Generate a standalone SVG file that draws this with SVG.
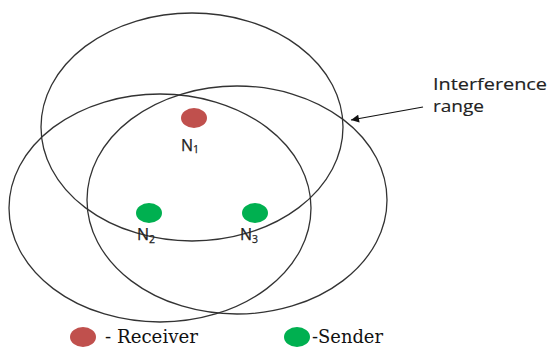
<svg xmlns="http://www.w3.org/2000/svg" width="550" height="347" viewBox="0 0 550 347">
<defs>
<style>
.range{fill:none;stroke:#333;stroke-width:1.3}
.rx{fill:#C0504D}
.tx{fill:#00B050}
.lbl{font-family:"Open Sans","Liberation Sans",sans-serif;font-size:16px;fill:#222;stroke:#222;stroke-width:0.25}
.sub{font-size:10.5px}
.leg{font-family:"DejaVu Serif","Liberation Serif",serif;font-size:18px;fill:#111}
</style>
<marker id="ah" viewBox="0 0 10 10" refX="10" refY="5" markerWidth="10" markerHeight="8" markerUnits="userSpaceOnUse" orient="auto">
<path d="M0,0 L10,5 L0,10 z" fill="#111"/>
</marker>
</defs>
<g id="ranges">
<ellipse class="range" cx="192" cy="127" rx="151" ry="114"/>
<ellipse class="range" cx="160" cy="208" rx="151" ry="114"/>
<ellipse class="range" cx="237" cy="200" rx="150" ry="114"/>
</g>
<g id="connectors">
<line x1="423" y1="107" x2="351" y2="120" stroke="#111" stroke-width="1.2" marker-end="url(#ah)"/>
</g>
<g id="N1">
<ellipse class="rx" cx="194" cy="118" rx="13" ry="10"/>
<text class="lbl" x="181" y="151">N<tspan class="sub" dy="2">1</tspan></text>
</g>
<g id="N2">
<ellipse class="tx" cx="149" cy="213" rx="13" ry="10"/>
<text class="lbl" x="137" y="240">N<tspan class="sub" dy="3">2</tspan></text>
</g>
<g id="N3">
<ellipse class="tx" cx="255" cy="213" rx="13" ry="10"/>
<text class="lbl" x="240" y="240">N<tspan class="sub" dy="3">3</tspan></text>
</g>
<g id="interference-label">
<text class="lbl" x="433" y="90" textLength="114" lengthAdjust="spacingAndGlyphs" style="stroke-width:0.15">Interference</text>
<text class="lbl" x="433" y="112" textLength="51" lengthAdjust="spacingAndGlyphs" style="stroke-width:0.15">range</text>
</g>
<g id="legend-receiver">
<ellipse class="rx" cx="83" cy="337" rx="13" ry="10"/>
<text class="leg" x="105" y="343" textLength="93" lengthAdjust="spacingAndGlyphs">- Receiver</text>
</g>
<g id="legend-sender">
<ellipse class="tx" cx="297" cy="337" rx="13" ry="10"/>
<text class="leg" x="312" y="343" textLength="71" lengthAdjust="spacingAndGlyphs">-Sender</text>
</g>
</svg>
